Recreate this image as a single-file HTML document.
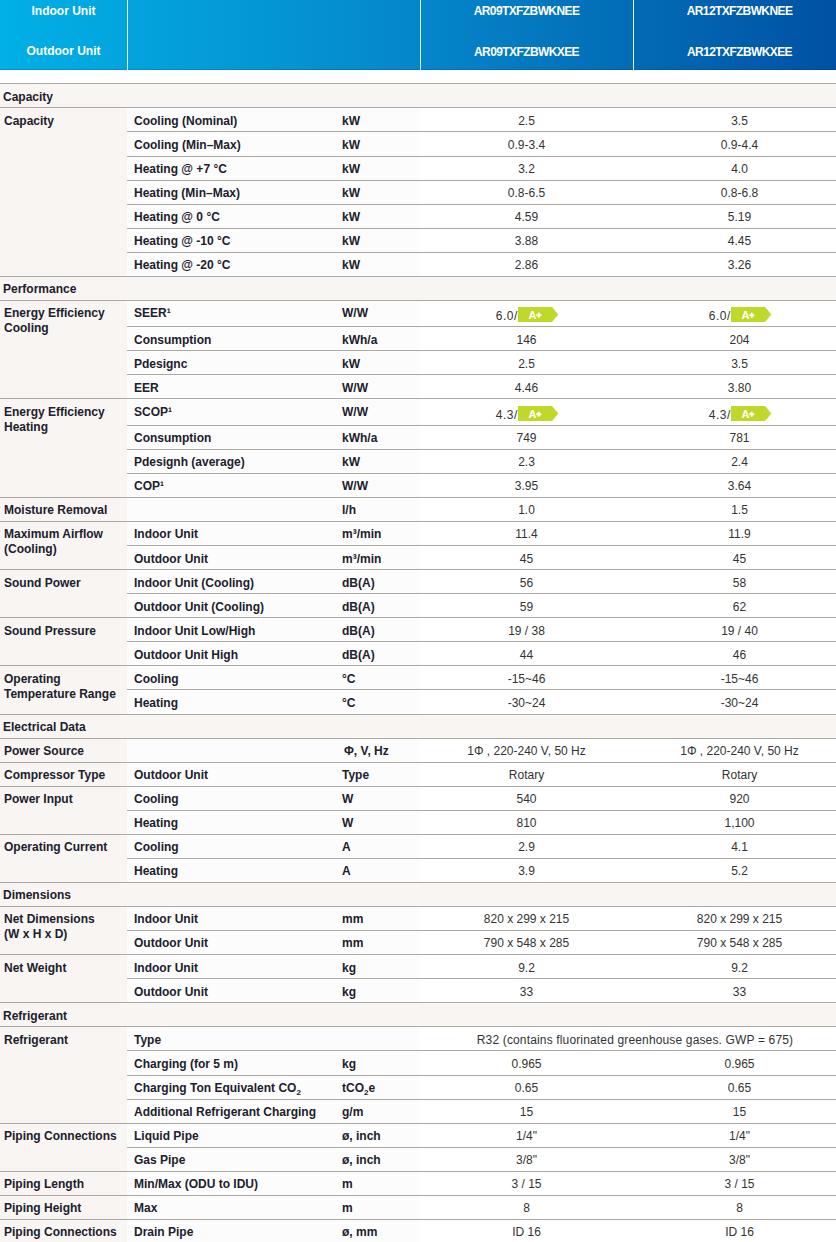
<!DOCTYPE html>
<html><head><meta charset="utf-8"><style>
html,body{margin:0;padding:0}
body{width:836px;height:1242px;overflow:hidden;position:relative;background:#fff;font-family:"Liberation Sans",sans-serif;font-size:12px}
.hd{position:absolute;left:0;top:0;width:846px;height:70px;box-shadow:inset 0 -1px rgba(0,30,90,0.18);background:linear-gradient(to right,#00b0e6 0%,#03a4de 15%,#0586ca 50%,#0050a2 100%)}
.hv{position:absolute;top:0;height:70px;width:1px;background:#d8f4ff}
.ht{position:absolute;color:#fff;font-weight:700;text-align:center;line-height:14px;white-space:nowrap}
.ln{position:absolute;height:1px;background:#aca8a4}
.sec{position:absolute;left:0;width:836px;background:#f8f5f2}
.sec .lb{position:absolute;top:0;line-height:23px}
.c1{position:absolute;left:0;width:127px;background:#f8f5f2}
.c2{position:absolute;left:127px;width:293px;background:#fdfcfc}
.gl{position:absolute;left:4px;top:5px;line-height:15px;font-weight:700;color:#20202d}
.tx{position:absolute;white-space:nowrap;line-height:23px;height:23px}
.lb{font-weight:700;color:#20202d}
.vl{text-align:center;color:#333}
sup{font-size:8px;vertical-align:top;position:relative;top:-3px;line-height:1}
sub{font-size:8px;vertical-align:bottom;position:relative;top:3px;line-height:1}
.bdg{display:inline-block;position:relative;vertical-align:top;top:2px;margin-left:1px}
.sb{font-size:8px;position:relative;top:3px}
.vb{letter-spacing:0.5px}
</style></head><body>
<div class="hd"></div>
<div class="hv" style="left:127px"></div>
<div class="hv" style="left:420px"></div>
<div class="hv" style="left:633px"></div>
<div class="ht" style="left:0;width:127px;top:4px">Indoor Unit</div>
<div class="ht" style="left:0;width:127px;top:44px">Outdoor Unit</div>
<div class="ht" style="left:420px;width:213px;top:4px;letter-spacing:-0.6px">AR09TXFZBWKNEE</div>
<div class="ht" style="left:420px;width:213px;top:45px;letter-spacing:-0.6px">AR09TXFZBWKXEE</div>
<div class="ht" style="left:633px;width:213px;top:4px;letter-spacing:-0.6px">AR12TXFZBWKNEE</div>
<div class="ht" style="left:633px;width:213px;top:45px;letter-spacing:-0.6px">AR12TXFZBWKXEE</div>
<div class="ln" style="top:83px;left:0;width:836px"></div>
<div class="sec" style="top:84px;height:23px"></div>
<div class="tx lb" style="top:86px;left:3px">Capacity</div>
<div class="ln" style="top:107px;left:0;width:836px"></div>
<div class="c1" style="top:108px;height:168px"><div class="gl" style="top:6px">Capacity</div></div>
<div class="c2" style="top:108px;height:23px"></div>
<div class="tx lb" style="top:110px;left:134px">Cooling (Nominal)</div>
<div class="tx lb" style="top:110px;left:342px">kW</div>
<div class="tx vl" style="top:110px;left:420px;width:213px">2.5</div>
<div class="tx vl" style="top:110px;left:633px;width:213px">3.5</div>
<div class="ln" style="top:131px;left:127px;width:709px"></div>
<div class="c2" style="top:132px;height:24px"></div>
<div class="tx lb" style="top:134px;left:134px">Cooling (Min&ndash;Max)</div>
<div class="tx lb" style="top:134px;left:342px">kW</div>
<div class="tx vl" style="top:134px;left:420px;width:213px">0.9-3.4</div>
<div class="tx vl" style="top:134px;left:633px;width:213px">0.9-4.4</div>
<div class="ln" style="top:156px;left:127px;width:709px"></div>
<div class="c2" style="top:157px;height:23px"></div>
<div class="tx lb" style="top:158px;left:134px">Heating @ +7 &deg;C</div>
<div class="tx lb" style="top:158px;left:342px">kW</div>
<div class="tx vl" style="top:158px;left:420px;width:213px">3.2</div>
<div class="tx vl" style="top:158px;left:633px;width:213px">4.0</div>
<div class="ln" style="top:180px;left:127px;width:709px"></div>
<div class="c2" style="top:181px;height:23px"></div>
<div class="tx lb" style="top:182px;left:134px">Heating (Min&ndash;Max)</div>
<div class="tx lb" style="top:182px;left:342px">kW</div>
<div class="tx vl" style="top:182px;left:420px;width:213px">0.8-6.5</div>
<div class="tx vl" style="top:182px;left:633px;width:213px">0.8-6.8</div>
<div class="ln" style="top:204px;left:127px;width:709px"></div>
<div class="c2" style="top:205px;height:23px"></div>
<div class="tx lb" style="top:206px;left:134px">Heating @ 0 &deg;C</div>
<div class="tx lb" style="top:206px;left:342px">kW</div>
<div class="tx vl" style="top:206px;left:420px;width:213px">4.59</div>
<div class="tx vl" style="top:206px;left:633px;width:213px">5.19</div>
<div class="ln" style="top:228px;left:127px;width:709px"></div>
<div class="c2" style="top:229px;height:23px"></div>
<div class="tx lb" style="top:230px;left:134px">Heating @ -10 &deg;C</div>
<div class="tx lb" style="top:230px;left:342px">kW</div>
<div class="tx vl" style="top:230px;left:420px;width:213px">3.88</div>
<div class="tx vl" style="top:230px;left:633px;width:213px">4.45</div>
<div class="ln" style="top:252px;left:127px;width:709px"></div>
<div class="c2" style="top:253px;height:23px"></div>
<div class="tx lb" style="top:254px;left:134px">Heating @ -20 &deg;C</div>
<div class="tx lb" style="top:254px;left:342px">kW</div>
<div class="tx vl" style="top:254px;left:420px;width:213px">2.86</div>
<div class="tx vl" style="top:254px;left:633px;width:213px">3.26</div>
<div class="ln" style="top:276px;left:0;width:836px"></div>
<div class="sec" style="top:277px;height:23px"></div>
<div class="tx lb" style="top:278px;left:3px">Performance</div>
<div class="ln" style="top:300px;left:0;width:836px"></div>
<div class="c1" style="top:301px;height:97px"><div class="gl" style="top:5px">Energy Efficiency<br>Cooling</div></div>
<div class="c2" style="top:301px;height:25px"></div>
<div class="tx lb" style="top:302px;left:134px">SEER&sup1;</div>
<div class="tx lb" style="top:302px;left:342px">W/W</div>
<div class="tx vl" style="top:305px;left:421px;width:213px"><span class="vb">6.0</span>/<svg class="bdg" width="41" height="15" viewBox="0 0 41 15"><polygon points="0,0 34,0 40.3,7.5 34,15 0,15" fill="#c0d82a"/><text x="10.5" y="12.3" font-family="Liberation Sans" font-weight="700" font-size="11" fill="#fff">A</text><path d="M18.3,8.2H23.3M20.8,5.7V10.7" stroke="#fff" stroke-width="1.9"/></svg></div>
<div class="tx vl" style="top:305px;left:634px;width:213px"><span class="vb">6.0</span>/<svg class="bdg" width="41" height="15" viewBox="0 0 41 15"><polygon points="0,0 34,0 40.3,7.5 34,15 0,15" fill="#c0d82a"/><text x="10.5" y="12.3" font-family="Liberation Sans" font-weight="700" font-size="11" fill="#fff">A</text><path d="M18.3,8.2H23.3M20.8,5.7V10.7" stroke="#fff" stroke-width="1.9"/></svg></div>
<div class="ln" style="top:326px;left:127px;width:709px"></div>
<div class="c2" style="top:327px;height:23px"></div>
<div class="tx lb" style="top:329px;left:134px">Consumption</div>
<div class="tx lb" style="top:329px;left:342px">kWh/a</div>
<div class="tx vl" style="top:329px;left:420px;width:213px">146</div>
<div class="tx vl" style="top:329px;left:633px;width:213px">204</div>
<div class="ln" style="top:350px;left:127px;width:709px"></div>
<div class="c2" style="top:351px;height:23px"></div>
<div class="tx lb" style="top:353px;left:134px">Pdesignc</div>
<div class="tx lb" style="top:353px;left:342px">kW</div>
<div class="tx vl" style="top:353px;left:420px;width:213px">2.5</div>
<div class="tx vl" style="top:353px;left:633px;width:213px">3.5</div>
<div class="ln" style="top:374px;left:127px;width:709px"></div>
<div class="c2" style="top:375px;height:23px"></div>
<div class="tx lb" style="top:377px;left:134px">EER</div>
<div class="tx lb" style="top:377px;left:342px">W/W</div>
<div class="tx vl" style="top:377px;left:420px;width:213px">4.46</div>
<div class="tx vl" style="top:377px;left:633px;width:213px">3.80</div>
<div class="ln" style="top:398px;left:0;width:836px"></div>
<div class="c1" style="top:399px;height:98px"><div class="gl" style="top:6px">Energy Efficiency<br>Heating</div></div>
<div class="c2" style="top:399px;height:26px"></div>
<div class="tx lb" style="top:401px;left:134px">SCOP&sup1;</div>
<div class="tx lb" style="top:401px;left:342px">W/W</div>
<div class="tx vl" style="top:404px;left:421px;width:213px"><span class="vb">4.3</span>/<svg class="bdg" width="41" height="15" viewBox="0 0 41 15"><polygon points="0,0 34,0 40.3,7.5 34,15 0,15" fill="#c0d82a"/><text x="10.5" y="12.3" font-family="Liberation Sans" font-weight="700" font-size="11" fill="#fff">A</text><path d="M18.3,8.2H23.3M20.8,5.7V10.7" stroke="#fff" stroke-width="1.9"/></svg></div>
<div class="tx vl" style="top:404px;left:634px;width:213px"><span class="vb">4.3</span>/<svg class="bdg" width="41" height="15" viewBox="0 0 41 15"><polygon points="0,0 34,0 40.3,7.5 34,15 0,15" fill="#c0d82a"/><text x="10.5" y="12.3" font-family="Liberation Sans" font-weight="700" font-size="11" fill="#fff">A</text><path d="M18.3,8.2H23.3M20.8,5.7V10.7" stroke="#fff" stroke-width="1.9"/></svg></div>
<div class="ln" style="top:425px;left:127px;width:709px"></div>
<div class="c2" style="top:426px;height:23px"></div>
<div class="tx lb" style="top:427px;left:134px">Consumption</div>
<div class="tx lb" style="top:427px;left:342px">kWh/a</div>
<div class="tx vl" style="top:427px;left:420px;width:213px">749</div>
<div class="tx vl" style="top:427px;left:633px;width:213px">781</div>
<div class="ln" style="top:449px;left:127px;width:709px"></div>
<div class="c2" style="top:450px;height:23px"></div>
<div class="tx lb" style="top:451px;left:134px">Pdesignh (average)</div>
<div class="tx lb" style="top:451px;left:342px">kW</div>
<div class="tx vl" style="top:451px;left:420px;width:213px">2.3</div>
<div class="tx vl" style="top:451px;left:633px;width:213px">2.4</div>
<div class="ln" style="top:473px;left:127px;width:709px"></div>
<div class="c2" style="top:474px;height:23px"></div>
<div class="tx lb" style="top:475px;left:134px">COP&sup1;</div>
<div class="tx lb" style="top:475px;left:342px">W/W</div>
<div class="tx vl" style="top:475px;left:420px;width:213px">3.95</div>
<div class="tx vl" style="top:475px;left:633px;width:213px">3.64</div>
<div class="ln" style="top:497px;left:0;width:836px"></div>
<div class="c1" style="top:498px;height:23px"><div class="gl" style="top:5px">Moisture Removal</div></div>
<div class="c2" style="top:498px;height:23px"></div>
<div class="tx lb" style="top:499px;left:342px">l/h</div>
<div class="tx vl" style="top:499px;left:420px;width:213px">1.0</div>
<div class="tx vl" style="top:499px;left:633px;width:213px">1.5</div>
<div class="ln" style="top:521px;left:0;width:836px"></div>
<div class="c1" style="top:522px;height:47px"><div class="gl" style="top:5px">Maximum Airflow<br>(Cooling)</div></div>
<div class="c2" style="top:522px;height:23px"></div>
<div class="tx lb" style="top:523px;left:134px">Indoor Unit</div>
<div class="tx lb" style="top:523px;left:342px">m&sup3;/min</div>
<div class="tx vl" style="top:523px;left:420px;width:213px">11.4</div>
<div class="tx vl" style="top:523px;left:633px;width:213px">11.9</div>
<div class="ln" style="top:545px;left:127px;width:709px"></div>
<div class="c2" style="top:546px;height:23px"></div>
<div class="tx lb" style="top:548px;left:134px">Outdoor Unit</div>
<div class="tx lb" style="top:548px;left:342px">m&sup3;/min</div>
<div class="tx vl" style="top:548px;left:420px;width:213px">45</div>
<div class="tx vl" style="top:548px;left:633px;width:213px">45</div>
<div class="ln" style="top:569px;left:0;width:836px"></div>
<div class="c1" style="top:570px;height:47px"><div class="gl" style="top:6px">Sound Power</div></div>
<div class="c2" style="top:570px;height:23px"></div>
<div class="tx lb" style="top:572px;left:134px">Indoor Unit (Cooling)</div>
<div class="tx lb" style="top:572px;left:342px">dB(A)</div>
<div class="tx vl" style="top:572px;left:420px;width:213px">56</div>
<div class="tx vl" style="top:572px;left:633px;width:213px">58</div>
<div class="ln" style="top:593px;left:127px;width:709px"></div>
<div class="c2" style="top:594px;height:23px"></div>
<div class="tx lb" style="top:596px;left:134px">Outdoor Unit (Cooling)</div>
<div class="tx lb" style="top:596px;left:342px">dB(A)</div>
<div class="tx vl" style="top:596px;left:420px;width:213px">59</div>
<div class="tx vl" style="top:596px;left:633px;width:213px">62</div>
<div class="ln" style="top:617px;left:0;width:836px"></div>
<div class="c1" style="top:618px;height:47px"><div class="gl" style="top:6px">Sound Pressure</div></div>
<div class="c2" style="top:618px;height:23px"></div>
<div class="tx lb" style="top:620px;left:134px">Indoor Unit Low/High</div>
<div class="tx lb" style="top:620px;left:342px">dB(A)</div>
<div class="tx vl" style="top:620px;left:420px;width:213px">19 / 38</div>
<div class="tx vl" style="top:620px;left:633px;width:213px">19 / 40</div>
<div class="ln" style="top:641px;left:127px;width:709px"></div>
<div class="c2" style="top:642px;height:23px"></div>
<div class="tx lb" style="top:644px;left:134px">Outdoor Unit High</div>
<div class="tx lb" style="top:644px;left:342px">dB(A)</div>
<div class="tx vl" style="top:644px;left:420px;width:213px">44</div>
<div class="tx vl" style="top:644px;left:633px;width:213px">46</div>
<div class="ln" style="top:665px;left:0;width:836px"></div>
<div class="c1" style="top:666px;height:48px"><div class="gl" style="top:6px">Operating<br>Temperature Range</div></div>
<div class="c2" style="top:666px;height:23px"></div>
<div class="tx lb" style="top:668px;left:134px">Cooling</div>
<div class="tx lb" style="top:668px;left:342px">&deg;C</div>
<div class="tx vl" style="top:668px;left:420px;width:213px">-15~46</div>
<div class="tx vl" style="top:668px;left:633px;width:213px">-15~46</div>
<div class="ln" style="top:689px;left:127px;width:709px"></div>
<div class="c2" style="top:690px;height:24px"></div>
<div class="tx lb" style="top:692px;left:134px">Heating</div>
<div class="tx lb" style="top:692px;left:342px">&deg;C</div>
<div class="tx vl" style="top:692px;left:420px;width:213px">-30~24</div>
<div class="tx vl" style="top:692px;left:633px;width:213px">-30~24</div>
<div class="ln" style="top:714px;left:0;width:836px"></div>
<div class="sec" style="top:715px;height:23px"></div>
<div class="tx lb" style="top:716px;left:3px">Electrical Data</div>
<div class="ln" style="top:738px;left:0;width:836px"></div>
<div class="c1" style="top:739px;height:23px"><div class="gl" style="top:5px">Power Source</div></div>
<div class="c2" style="top:739px;height:23px"></div>
<div class="tx lb" style="top:740px;left:342px"><span style="margin-left:2px">&Phi;</span>, V, Hz</div>
<div class="tx vl" style="top:740px;left:420px;width:213px">1&Phi; , 220-240 V, 50 Hz</div>
<div class="tx vl" style="top:740px;left:633px;width:213px">1&Phi; , 220-240 V, 50 Hz</div>
<div class="ln" style="top:762px;left:0;width:836px"></div>
<div class="c1" style="top:763px;height:23px"><div class="gl" style="top:5px">Compressor Type</div></div>
<div class="c2" style="top:763px;height:23px"></div>
<div class="tx lb" style="top:764px;left:134px">Outdoor Unit</div>
<div class="tx lb" style="top:764px;left:342px">Type</div>
<div class="tx vl" style="top:764px;left:420px;width:213px">Rotary</div>
<div class="tx vl" style="top:764px;left:633px;width:213px">Rotary</div>
<div class="ln" style="top:786px;left:0;width:836px"></div>
<div class="c1" style="top:787px;height:47px"><div class="gl" style="top:5px">Power Input</div></div>
<div class="c2" style="top:787px;height:23px"></div>
<div class="tx lb" style="top:788px;left:134px">Cooling</div>
<div class="tx lb" style="top:788px;left:342px">W</div>
<div class="tx vl" style="top:788px;left:420px;width:213px">540</div>
<div class="tx vl" style="top:788px;left:633px;width:213px">920</div>
<div class="ln" style="top:810px;left:127px;width:709px"></div>
<div class="c2" style="top:811px;height:23px"></div>
<div class="tx lb" style="top:812px;left:134px">Heating</div>
<div class="tx lb" style="top:812px;left:342px">W</div>
<div class="tx vl" style="top:812px;left:420px;width:213px">810</div>
<div class="tx vl" style="top:812px;left:633px;width:213px">1,100</div>
<div class="ln" style="top:834px;left:0;width:836px"></div>
<div class="c1" style="top:835px;height:47px"><div class="gl" style="top:5px">Operating Current</div></div>
<div class="c2" style="top:835px;height:23px"></div>
<div class="tx lb" style="top:836px;left:134px">Cooling</div>
<div class="tx lb" style="top:836px;left:342px">A</div>
<div class="tx vl" style="top:836px;left:420px;width:213px">2.9</div>
<div class="tx vl" style="top:836px;left:633px;width:213px">4.1</div>
<div class="ln" style="top:858px;left:127px;width:709px"></div>
<div class="c2" style="top:859px;height:23px"></div>
<div class="tx lb" style="top:860px;left:134px">Heating</div>
<div class="tx lb" style="top:860px;left:342px">A</div>
<div class="tx vl" style="top:860px;left:420px;width:213px">3.9</div>
<div class="tx vl" style="top:860px;left:633px;width:213px">5.2</div>
<div class="ln" style="top:882px;left:0;width:836px"></div>
<div class="sec" style="top:883px;height:23px"></div>
<div class="tx lb" style="top:884px;left:3px">Dimensions</div>
<div class="ln" style="top:906px;left:0;width:836px"></div>
<div class="c1" style="top:907px;height:47px"><div class="gl" style="top:5px">Net Dimensions<br>(W x H x D)</div></div>
<div class="c2" style="top:907px;height:23px"></div>
<div class="tx lb" style="top:908px;left:134px">Indoor Unit</div>
<div class="tx lb" style="top:908px;left:342px">mm</div>
<div class="tx vl" style="top:908px;left:420px;width:213px">820 x 299 x 215</div>
<div class="tx vl" style="top:908px;left:633px;width:213px">820 x 299 x 215</div>
<div class="ln" style="top:930px;left:127px;width:709px"></div>
<div class="c2" style="top:931px;height:23px"></div>
<div class="tx lb" style="top:932px;left:134px">Outdoor Unit</div>
<div class="tx lb" style="top:932px;left:342px">mm</div>
<div class="tx vl" style="top:932px;left:420px;width:213px">790 x 548 x 285</div>
<div class="tx vl" style="top:932px;left:633px;width:213px">790 x 548 x 285</div>
<div class="ln" style="top:954px;left:0;width:836px"></div>
<div class="c1" style="top:955px;height:47px"><div class="gl" style="top:6px">Net Weight</div></div>
<div class="c2" style="top:955px;height:23px"></div>
<div class="tx lb" style="top:957px;left:134px">Indoor Unit</div>
<div class="tx lb" style="top:957px;left:342px">kg</div>
<div class="tx vl" style="top:957px;left:420px;width:213px">9.2</div>
<div class="tx vl" style="top:957px;left:633px;width:213px">9.2</div>
<div class="ln" style="top:978px;left:127px;width:709px"></div>
<div class="c2" style="top:979px;height:23px"></div>
<div class="tx lb" style="top:981px;left:134px">Outdoor Unit</div>
<div class="tx lb" style="top:981px;left:342px">kg</div>
<div class="tx vl" style="top:981px;left:420px;width:213px">33</div>
<div class="tx vl" style="top:981px;left:633px;width:213px">33</div>
<div class="ln" style="top:1002px;left:0;width:836px"></div>
<div class="sec" style="top:1003px;height:23px"></div>
<div class="tx lb" style="top:1005px;left:3px">Refrigerant</div>
<div class="ln" style="top:1026px;left:0;width:836px"></div>
<div class="c1" style="top:1027px;height:96px"><div class="gl" style="top:6px">Refrigerant</div></div>
<div class="c2" style="top:1027px;height:23px"></div>
<div class="tx lb" style="top:1029px;left:134px">Type</div>
<div class="tx vl" style="top:1029px;left:422px;width:426px;letter-spacing:0.15px">R32 (contains fluorinated greenhouse gases. GWP = 675)</div>
<div class="ln" style="top:1050px;left:127px;width:709px"></div>
<div class="c2" style="top:1051px;height:24px"></div>
<div class="tx lb" style="top:1053px;left:134px">Charging (for 5 m)</div>
<div class="tx lb" style="top:1053px;left:342px">kg</div>
<div class="tx vl" style="top:1053px;left:420px;width:213px">0.965</div>
<div class="tx vl" style="top:1053px;left:633px;width:213px">0.965</div>
<div class="ln" style="top:1075px;left:127px;width:709px"></div>
<div class="c2" style="top:1076px;height:23px"></div>
<div class="tx lb" style="top:1077px;left:134px">Charging Ton Equivalent CO<span class="sb">2</span></div>
<div class="tx lb" style="top:1077px;left:342px">tCO<span class="sb">2</span>e</div>
<div class="tx vl" style="top:1077px;left:420px;width:213px">0.65</div>
<div class="tx vl" style="top:1077px;left:633px;width:213px">0.65</div>
<div class="ln" style="top:1099px;left:127px;width:709px"></div>
<div class="c2" style="top:1100px;height:23px"></div>
<div class="tx lb" style="top:1101px;left:134px">Additional Refrigerant Charging</div>
<div class="tx lb" style="top:1101px;left:342px">g/m</div>
<div class="tx vl" style="top:1101px;left:420px;width:213px">15</div>
<div class="tx vl" style="top:1101px;left:633px;width:213px">15</div>
<div class="ln" style="top:1123px;left:0;width:836px"></div>
<div class="c1" style="top:1124px;height:47px"><div class="gl" style="top:5px">Piping Connections</div></div>
<div class="c2" style="top:1124px;height:23px"></div>
<div class="tx lb" style="top:1125px;left:134px">Liquid Pipe</div>
<div class="tx lb" style="top:1125px;left:342px">&oslash;, inch</div>
<div class="tx vl" style="top:1125px;left:420px;width:213px">1/4"</div>
<div class="tx vl" style="top:1125px;left:633px;width:213px">1/4"</div>
<div class="ln" style="top:1147px;left:127px;width:709px"></div>
<div class="c2" style="top:1148px;height:23px"></div>
<div class="tx lb" style="top:1149px;left:134px">Gas Pipe</div>
<div class="tx lb" style="top:1149px;left:342px">&oslash;, inch</div>
<div class="tx vl" style="top:1149px;left:420px;width:213px">3/8"</div>
<div class="tx vl" style="top:1149px;left:633px;width:213px">3/8"</div>
<div class="ln" style="top:1171px;left:0;width:836px"></div>
<div class="c1" style="top:1172px;height:23px"><div class="gl" style="top:5px">Piping Length</div></div>
<div class="c2" style="top:1172px;height:23px"></div>
<div class="tx lb" style="top:1173px;left:134px">Min/Max (ODU to IDU)</div>
<div class="tx lb" style="top:1173px;left:342px">m</div>
<div class="tx vl" style="top:1173px;left:420px;width:213px">3 / 15</div>
<div class="tx vl" style="top:1173px;left:633px;width:213px">3 / 15</div>
<div class="ln" style="top:1195px;left:0;width:836px"></div>
<div class="c1" style="top:1196px;height:23px"><div class="gl" style="top:5px">Piping Height</div></div>
<div class="c2" style="top:1196px;height:23px"></div>
<div class="tx lb" style="top:1197px;left:134px">Max</div>
<div class="tx lb" style="top:1197px;left:342px">m</div>
<div class="tx vl" style="top:1197px;left:420px;width:213px">8</div>
<div class="tx vl" style="top:1197px;left:633px;width:213px">8</div>
<div class="ln" style="top:1219px;left:0;width:836px"></div>
<div class="c1" style="top:1220px;height:23px"><div class="gl" style="top:5px">Piping Connections</div></div>
<div class="c2" style="top:1220px;height:23px"></div>
<div class="tx lb" style="top:1221px;left:134px">Drain Pipe</div>
<div class="tx lb" style="top:1221px;left:342px">&oslash;, mm</div>
<div class="tx vl" style="top:1221px;left:420px;width:213px">ID 16</div>
<div class="tx vl" style="top:1221px;left:633px;width:213px">ID 16</div>
</body></html>
